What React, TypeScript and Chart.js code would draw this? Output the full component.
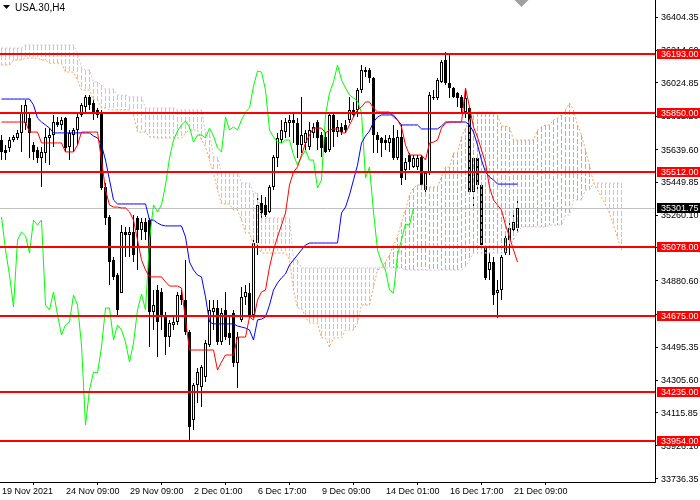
import { useEffect, useRef } from "react"
import { Chart, registerables } from "chart.js"

Chart.register(...registerables)

const FONT = "Liberation Sans"

const title = "USA.30,H4"
const timeLabels = ["19 Nov 2021", "24 Nov 09:00", "29 Nov 09:00", "2 Dec 01:00", "6 Dec 17:00", "9 Dec 09:00", "14 Dec 01:00", "16 Dec 17:00", "21 Dec 09:00"]
const timeLabelBars = [0, 16, 32, 48, 64, 80, 96, 112, 128]
const priceTicks = [36404.35, 36214.6, 36024.85, 35832.2, 35639.6, 35449.85, 35260.1, 35070.35, 34880.6, 34687.95, 34495.35, 34305.6, 34115.85, 33926.1, 33736.35]
const levels = [36193, 35850, 35512, 35078, 34675, 34235, 33954]
const lastPrice = 35301.75

// H4 candles
const opens = [
  35695, 35637, 35649, 35695, 35707, 35736, 35793, 35822, 35666, 35637,
  35591, 35620, 35707, 35724, 35799, 35782, 35822, 35655, 35724, 35753,
  35840, 35886, 35944, 35909, 35869, 35851, 35423, 35250, 35001, 34914,
  34810, 35163, 35145, 35163, 35244, 35174, 35221, 35232, 34700, 34827,
  34816, 34683, 34555, 34625, 34642, 34798, 34769, 34584, 34075, 34278,
  34266, 34324, 34509, 34700, 34723, 34526, 34712, 34579, 34694, 34405,
  34654, 34787, 34810, 34683, 35099, 35331, 35319, 35278, 35423, 35591,
  35695, 35741, 35793, 35811, 35793, 35666, 35678, 35655, 35736, 35799,
  35724, 35712, 35637, 35840, 35741, 35770, 35782, 35811, 35869, 35869,
  35984, 36100, 36100, 36054, 35724, 35707, 35695, 35678, 35707, 35591,
  35712, 35522, 35608, 35539, 35539, 35597, 35406, 35504, 35944, 35938,
  36031, 36158, 36025, 35996, 35967, 35944, 35857, 35880, 35394, 35591,
  35435, 35070, 34943, 34989, 34810, 34827, 35041, 35117, 35174, 35186,
]
const highs = [
  35724, 35666, 35712, 35724, 35753, 35898, 35927, 35851, 35683, 35655,
  35655, 35764, 35764, 35840, 35828, 35828, 35828, 35753, 35764, 35857,
  35909, 35955, 35955, 35927, 35880, 35869, 35446, 35261, 35018, 34926,
  35203, 35192, 35192, 35261, 35255, 35244, 35244, 35244, 34827, 34856,
  34839, 34700, 34654, 34683, 34816, 34827, 35001, 34596, 34289, 34376,
  34393, 34538, 34769, 34769, 34769, 34723, 34816, 34683, 34712, 34584,
  34845, 34856, 34868, 35134, 35377, 35377, 35365, 35435, 35608, 35736,
  35811, 35822, 35840, 35857, 35822, 35944, 35753, 35799, 35793, 35811,
  35741, 35741, 35857, 35857, 35811, 35793, 35811, 35944, 35915, 35996,
  36129, 36117, 36112, 36060, 35741, 35712, 35724, 35724, 35782, 35753,
  35782, 35591, 35620, 35608, 35608, 35608, 35510, 35973, 35984, 36054,
  36158, 36204, 36198, 36002, 35973, 35955, 35996, 35886, 35597, 35608,
  35446, 35088, 35041, 35018, 34885, 35030, 35157, 35221, 35261, 35348,
]
const lows = [
  35579, 35579, 35626, 35683, 35695, 35626, 35753, 35591, 35579, 35562,
  35423, 35562, 35550, 35655, 35770, 35753, 35626, 35579, 35626, 35666,
  35828, 35851, 35869, 35811, 35822, 35406, 35203, 34856, 34885, 34683,
  34810, 35018, 35018, 34989, 34943, 35117, 35117, 34497, 34596, 34440,
  34596, 34451, 34497, 34596, 34625, 34740, 34567, 33959, 34017, 34173,
  34150, 34295, 34497, 34596, 34509, 34509, 34538, 34509, 34382, 34260,
  34642, 34740, 34665, 34665, 35030, 35232, 35250, 35273, 35406, 35539,
  35678, 35707, 35712, 35678, 35591, 35620, 35637, 35637, 35707, 35637,
  35597, 35620, 35626, 35655, 35712, 35724, 35736, 35793, 35828, 35828,
  35967, 36060, 36025, 35620, 35620, 35597, 35637, 35626, 35579, 35579,
  35435, 35464, 35522, 35533, 35522, 35406, 35394, 35493, 35927, 35927,
  36025, 36013, 35938, 35938, 35886, 35857, 35822, 35377, 35290, 35388,
  35070, 34885, 34885, 34740, 34665, 34769, 35030, 35030, 35145, 35163,
]
const closes = [
  35626, 35620, 35695, 35712, 35736, 35851, 35898, 35736, 35626, 35591,
  35626, 35712, 35724, 35799, 35782, 35811, 35649, 35736, 35753, 35828,
  35898, 35944, 35898, 35851, 35840, 35417, 35244, 34989, 34902, 34712,
  35163, 35145, 35163, 35030, 35174, 35221, 35163, 34700, 34740, 34642,
  34683, 34555, 34636, 34642, 34798, 34769, 34584, 34035, 34278, 34353,
  34382, 34521, 34712, 34723, 34526, 34694, 34555, 34550, 34405, 34555,
  34787, 34816, 34683, 35099, 35319, 35273, 35261, 35423, 35597, 35707,
  35753, 35799, 35811, 35793, 35666, 35724, 35736, 35753, 35770, 35707,
  35649, 35626, 35840, 35741, 35770, 35741, 35753, 35869, 35840, 35984,
  36100, 36088, 36054, 35724, 35695, 35678, 35678, 35707, 35591, 35712,
  35475, 35568, 35568, 35591, 35591, 35435, 35504, 35955, 35938, 36042,
  36146, 36025, 35996, 35944, 35938, 35880, 35938, 35394, 35591, 35435,
  35088, 34897, 34989, 34798, 34827, 35018, 35128, 35186, 35221, 35301.75,
]

// Ichimoku lines
const tenkan = [
  35799, 35799, 35799, 35799, 35799, 35799, 35799, 35741, 35741, 35741,
  35678, 35678, 35678, 35678, 35678, 35678, 35626, 35626, 35626, 35666,
  35741, 35741, 35741, 35741, 35741, 35579, 35406, 35319, 35307, 35307,
  35302, 35302, 35279, 35232, 35117, 35001, 34943, 34903, 34903, 34903,
  34903, 34874, 34850, 34850, 34850, 34839, 34654, 34480, 34480, 34480,
  34480, 34480, 34480, 34480, 34364, 34411, 34451, 34451, 34451, 34555,
  34555, 34555, 34671, 34654, 34769, 34816, 34827, 34960, 35059, 35134,
  35203, 35273, 35435, 35510, 35539, 35608, 35678, 35724, 35764, 35764,
  35764, 35736, 35753, 35759, 35759, 35736, 35736, 35782, 35828, 35869,
  35886, 35915, 35915, 35880, 35857, 35857, 35857, 35857, 35828, 35811,
  35770, 35666, 35608, 35608, 35608, 35608, 35579, 35678, 35683, 35695,
  35764, 35793, 35799, 35799, 35799, 35799, 35996, 35886, 35770, 35712,
  35637, 35562, 35423, 35348, 35319, 35290, 35203, 35134, 35059, 34989,
]
const kijun = [
  35932, 35932, 35932, 35932, 35932, 35932, 35932, 35932, 35898, 35822,
  35799, 35782, 35764, 35736, 35736, 35736, 35736, 35736, 35736, 35736,
  35736, 35736, 35736, 35718, 35707, 35666, 35579, 35464, 35348, 35325,
  35325, 35325, 35325, 35325, 35325, 35325, 35325, 35232, 35232, 35215,
  35203, 35198, 35198, 35198, 35198, 35198, 35134, 34989, 34943, 34914,
  34903, 34787, 34642, 34631, 34631, 34631, 34631, 34631, 34631, 34619,
  34613, 34607, 34596, 34538, 34654, 34659, 34671, 34740, 34827, 34868,
  34897, 34920, 34972, 35001, 35030, 35059, 35088, 35099, 35099, 35099,
  35099, 35099, 35099, 35099, 35099, 35273, 35307, 35377, 35464, 35550,
  35678, 35718, 35747, 35799, 35828, 35840, 35840, 35840, 35840, 35811,
  35782, 35782, 35782, 35782, 35782, 35759, 35759, 35759, 35759, 35759,
  35776, 35799, 35799, 35799, 35799, 35799, 35799, 35782, 35741, 35666,
  35579, 35510, 35481, 35464, 35440, 35440, 35440, 35440, 35440, 35440,
]
const chikou = [
  35250, 35059, 34914, 34729, 35117, 35163, 35140, 35041, 35232, 35203,
  35232, 34740, 34712, 34816, 34683, 34567, 34625, 34642, 34798, 34740,
  34509, 34046, 34249, 34353, 34347, 34497, 34723, 34723, 34538, 34625,
  34596, 34526, 34411, 34521, 34712, 34804, 34712, 35117, 35319, 35279,
  35319, 35435, 35591, 35695, 35747, 35782, 35805, 35770, 35683, 35724,
  35724, 35707, 35764, 35718, 35649, 35626, 35828, 35753, 35770, 35753,
  35811, 35857, 35880, 36007, 36094, 36088, 35984, 35753, 35712, 35683,
  35678, 35695, 35695, 35608, 35550, 35597, 35637, 35579, 35579, 35417,
  35464, 35840, 35967, 36031, 36129, 36042, 35996, 35955, 35938, 35921,
  35851, 35475, 35539, 35279, 35059, 34989, 34943, 34827, 34810, 35030,
  35117, 35209, 35203, 35302,
]
const spanA = [
  36129, 36129, 36129, 36158, 36158, 36158, 36169, 36169, 36169, 36169,
  36158, 36158, 36140, 36140, 36140, 36140, 36088, 36088, 36088, 36042,
  35984, 35984, 35984, 35927, 35927, 35880, 35880, 35869, 35869, 35869,
  35869, 35869, 35869, 35840, 35741, 35741, 35741, 35712, 35712, 35707,
  35707, 35707, 35707, 35707, 35707, 35707, 35736, 35753, 35753, 35753,
  35695, 35655, 35579, 35504, 35406, 35325, 35325, 35325, 35290, 35290,
  35232, 35157, 35157, 35088, 35088, 35041, 35041, 35041, 35041, 35041,
  35041, 35041, 35001, 34827, 34723, 34723, 34671, 34636, 34636, 34636,
  34550, 34550, 34497, 34550, 34550, 34550, 34596, 34596, 34596, 34636,
  34740, 34740, 34740, 34845, 34943, 34955, 34989, 35030, 35088, 35134,
  35221, 35290, 35377, 35417, 35435, 35435, 35435, 35423, 35423, 35423,
  35481, 35539, 35539, 35620, 35620, 35712, 35764, 35811, 35840, 35857,
  35857, 35857, 35857, 35857, 35840, 35776, 35776, 35770, 35695, 35695,
  35695, 35695, 35695, 35695, 35753, 35770, 35782, 35782, 35811, 35822,
  35840, 35869, 35909, 35869, 35782, 35724, 35637, 35550, 35446, 35406,
  35365, 35319, 35273, 35203, 35128, 35059,
]
const spanB = [
  36227, 36227, 36227, 36227, 36227, 36227, 36245, 36245, 36245, 36245,
  36245, 36245, 36245, 36245, 36245, 36245, 36245, 36245, 36245, 36198,
  36112, 36100, 36100, 36031, 36031, 36013, 35990, 35990, 35990, 35955,
  35955, 35955, 35944, 35944, 35944, 35944, 35880, 35880, 35880, 35880,
  35880, 35880, 35880, 35880, 35869, 35869, 35869, 35869, 35869, 35869,
  35869, 35736, 35736, 35597, 35597, 35510, 35510, 35510, 35510, 35510,
  35446, 35446, 35446, 35388, 35388, 35244, 35244, 35244, 35244, 35244,
  35244, 35244, 35244, 35001, 35001, 34955, 34955, 34955, 34955, 34955,
  34955, 34955, 34955, 34955, 34955, 34955, 34955, 34955, 34955, 34955,
  34955, 34955, 34955, 34955, 34955, 34955, 34955, 34955, 34955, 34955,
  34955, 34943, 34943, 34943, 34943, 34943, 34943, 34943, 34943, 34943,
  34943, 34943, 34943, 34943, 34943, 34943, 34960, 35001, 35041, 35041,
  35041, 35041, 35041, 35041, 35041, 35041, 35047, 35076, 35117, 35157,
  35192, 35192, 35192, 35192, 35192, 35192, 35192, 35203, 35203, 35203,
  35203, 35261, 35261, 35348, 35348, 35348, 35406, 35406, 35446, 35446,
  35446, 35446, 35446, 35446, 35446, 35446,
]

const pts = (arr: number[]) => arr.map((v, i) => ({ x: i, y: v }))

// Ichimoku cloud: dashed vertical hatch per bar, drawn right after the candles
const cloudPlugin = {
  id: "kumoHatch",
  afterDatasetDraw(chart: any, args: any) {
    if (args.index !== 5) return
    const { ctx, chartArea, scales } = chart
    ctx.save()
    ctx.beginPath()
    ctx.rect(chartArea.left, chartArea.top, chartArea.right - chartArea.left, chartArea.bottom - chartArea.top)
    ctx.clip()
    spanA.forEach((a, i) => {
      const b = spanB[i]
      const x = Math.floor(scales.x.getPixelForValue(i))
      const ya = scales.y.getPixelForValue(a)
      const yb = scales.y.getPixelForValue(b)
      const top = Math.round(Math.min(ya, yb))
      const bottom = Math.round(Math.max(ya, yb))
      ctx.fillStyle = a >= b ? "#f4a460" : "#d8bfd8"
      for (let y = top; y < bottom; y += 7) {
        ctx.fillRect(x, y, 1, Math.min(5, bottom - y))
      }
    })
    ctx.restore()
  },
}

const overlayPlugin = {
  id: "mtOverlay",
  beforeDatasetsDraw(chart: any) {
    const { ctx, chartArea, scales } = chart
    const y = Math.round(scales.y.getPixelForValue(lastPrice)) + 0.5
    ctx.save()
    ctx.strokeStyle = "#c0c0c0"
    ctx.lineWidth = 1
    ctx.beginPath()
    ctx.moveTo(chartArea.left, y)
    ctx.lineTo(chartArea.right, y)
    ctx.stroke()
    ctx.restore()
  },
  afterDatasetsDraw(chart: any) {
    const { ctx, chartArea, scales } = chart
    ctx.save()
    ctx.fillStyle = "#ff0000"
    levels.forEach((lv) => {
      const y = Math.round(scales.y.getPixelForValue(lv))
      ctx.fillRect(chartArea.left, y - 1, chartArea.right - chartArea.left, 2)
    })
    ctx.restore()
  },
  afterDraw(chart: any) {
    const { ctx, chartArea, scales, width } = chart
    ctx.save()
    ctx.font = `9px '${FONT}'`
    ctx.textBaseline = "middle"
    ctx.textAlign = "left"

    // price scale labels
    ctx.fillStyle = "#000"
    priceTicks.forEach((v) => {
      const y = Math.round(scales.y.getPixelForValue(v))
      ctx.fillText(v.toFixed(2), chartArea.right + 6, y + 0.5)
    })

    // price boxes on the right axis
    const box = (value: number, bg: string) => {
      const y = Math.round(scales.y.getPixelForValue(value))
      ctx.fillStyle = bg
      ctx.fillRect(chartArea.right + 2, y - 5, width - chartArea.right - 2, 10)
      ctx.fillStyle = "#fff"
      ctx.fillText(value.toFixed(2), chartArea.right + 6, y + 0.5)
    }
    levels.forEach((lv) => box(lv, "#ff0000"))
    box(lastPrice, "#000")

    // time labels
    ctx.fillStyle = "#000"
    timeLabelBars.forEach((b, i) => {
      const x = Math.round(scales.x.getPixelForValue(b))
      ctx.fillText(timeLabels[i], x, chartArea.bottom + 10)
    })

    // title
    ctx.font = `10px '${FONT}'`
    ctx.beginPath()
    ctx.moveTo(3, 5)
    ctx.lineTo(10, 5)
    ctx.lineTo(6.5, 9)
    ctx.closePath()
    ctx.fill()
    ctx.fillText(title, 15, 8)

    // chart shift marker
    const sx = scales.x.getPixelForValue(closes.length)
    ctx.fillStyle = "#a0a0a0"
    ctx.beginPath()
    ctx.moveTo(sx - 7, 0)
    ctx.lineTo(sx + 7, 0)
    ctx.lineTo(sx, 7)
    ctx.closePath()
    ctx.fill()
    ctx.restore()
  },
}

export default function App() {
  const canvasRef = useRef<HTMLCanvasElement>(null)
  const chartRef = useRef<Chart | null>(null)

  useEffect(() => {
    if (!canvasRef.current) return
    if (chartRef.current) chartRef.current.destroy()
    const ctx = canvasRef.current.getContext("2d")
    if (!ctx) return

    Chart.defaults.font.family = FONT

    const line = (data: number[], color: string, order: number, extra: any = {}) => ({
      type: "line" as const,
      data: pts(data),
      borderColor: color,
      borderWidth: 1,
      pointRadius: 0,
      tension: 0,
      fill: false,
      order,
      ...extra,
    })

    chartRef.current = new Chart(ctx, {
      type: "bar",
      data: {
        datasets: [
          line(tenkan, "#ff0000", 0),
          line(kijun, "#0000ff", 1),
          line(chikou, "#00ff00", 2),
          line(spanA, "#f4a460", 3, { borderDash: [2, 2] }),
          line(spanB, "#d8bfd8", 4, { borderDash: [2, 2] }),
          {
            type: "bar" as const,
            data: opens.map((o, i) => ({ x: i, y: [o, closes[i]] })) as any,
            backgroundColor: opens.map((o, i) => (closes[i] >= o ? "#ffffff" : "#000000")),
            borderColor: "#000000",
            borderWidth: 1,
            borderSkipped: false,
            barThickness: 3,
            grouped: false,
            inflateAmount: 0,
            order: 5,
          },
          {
            type: "bar" as const,
            data: lows.map((l, i) => ({ x: i, y: [l, highs[i]] })) as any,
            backgroundColor: "#000000",
            borderWidth: 0,
            barThickness: 1,
            grouped: false,
            inflateAmount: 0,
            order: 6,
          },
        ] as any,
      },
      options: {
        responsive: false,
        animation: false,
        events: [],
        layout: { padding: 0, autoPadding: false },
        plugins: {
          legend: { display: false },
          tooltip: { enabled: false },
          title: { display: false },
        },
        scales: {
          x: {
            type: "linear",
            min: -0.375,
            max: 163.375,
            offset: false,
            grid: { display: true, drawOnChartArea: false, drawTicks: true, tickLength: 3, color: "#000" },
            border: { display: true, color: "#000" },
            ticks: { display: false },
            afterBuildTicks: (s: any) => {
              s.ticks = timeLabelBars.map((v) => ({ value: v }))
            },
            afterFit: (s: any) => {
              s.height = 18
            },
          },
          y: {
            type: "linear",
            position: "right",
            min: 33716.4,
            max: 36505,
            grid: { display: true, drawOnChartArea: false, drawTicks: true, tickLength: 3, color: "#000" },
            border: { display: true, color: "#000" },
            ticks: { display: false },
            afterBuildTicks: (s: any) => {
              s.ticks = priceTicks.map((v) => ({ value: v }))
            },
            afterFit: (s: any) => {
              s.width = 45
              s.paddingTop = 0
              s.paddingBottom = 0
            },
          },
        },
      } as any,
      plugins: [cloudPlugin, overlayPlugin],
    })

    return () => {
      if (chartRef.current) {
        chartRef.current.destroy()
        chartRef.current = null
      }
    }
  }, [])

  return (
    <div style={{ position: "fixed", left: 0, top: 0, width: 700, height: 500, background: "#fff" }}>
      <canvas ref={canvasRef} width={700} height={500} style={{ width: 700, height: 500 }} />
    </div>
  )
}
